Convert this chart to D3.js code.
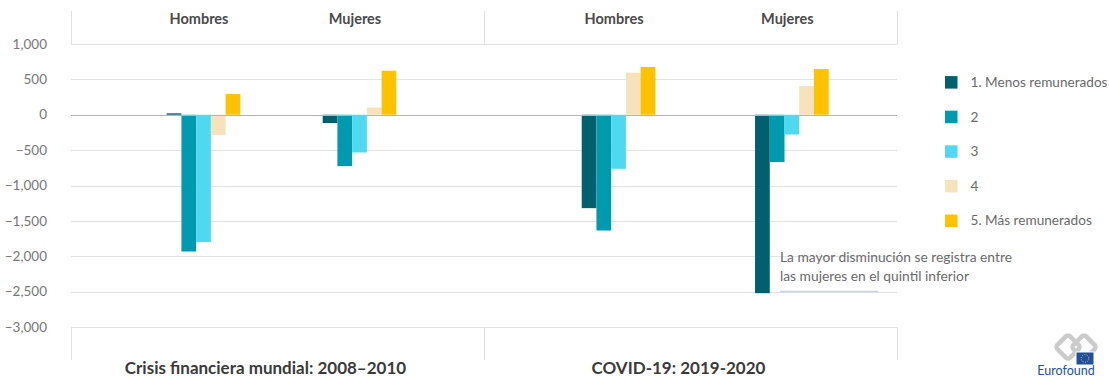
<!DOCTYPE html>
<html>
<head>
  <meta charset="utf-8">
  <title>Cambio en el empleo por quintil salarial</title>
  <script src="https://d3js.org/d3.v7.min.js"></script>
  <style>
    body { margin: 0; background: #fff; }
    text { font-family: "Source Sans Pro", Lato, "Open Sans", sans-serif; }
    .grid line { stroke: #e3e3e3; stroke-width: 1px; }
    .frame { stroke: #e0e0e0; stroke-width: 1px; fill: none; }
    .ytick { font-size: 13.5px; fill: #777; }
    .sub-label { font-size: 14.5px; font-weight: bold; fill: #4a4a4a; }
    .period-label { font-size: 17px; font-weight: bold; fill: #3a3a3a; }
    .legend text { font-size: 13.6px; fill: #6a6a6a; }
    .note { font-size: 13.8px; fill: #6a6a6a; }
  </style>
</head>
<body>
  <svg width="1109" height="379"></svg>
  <script>
    // Periods (bottom facets) and sexes (top labels)
    const periods = ["Crisis financiera mundial: 2008–2010", "COVID-19: 2019-2020"];
    const sexes = ["Hombres", "Mujeres"];
    const quintiles = ["1. Menos remunerados", "2", "3", "4", "5. Más remunerados"];
    const colors = ["#00606e", "#009aaf", "#4fd9f0", "#f6e2bb", "#ffc200"];

    // Employment change (thousands), one value per quintile
    const crisisHombres = [20, -1933, -1800, -287, 293];
    const crisisMujeres = [-117, -726, -533, 103, 622];
    const covidHombres = [-1320, -1636, -764, 594, 675];
    const covidMujeres = [-2522, -669, -279, 406, 646];

    const yTicks = [1000, 500, 0, -500, -1000, -1500, -2000, -2500, -3000];

    const series = [
      { period: periods[0], sex: sexes[0], values: crisisHombres },
      { period: periods[0], sex: sexes[1], values: crisisMujeres },
      { period: periods[1], sex: sexes[0], values: covidHombres },
      { period: periods[1], sex: sexes[1], values: covidMujeres }
    ];

    const svg = d3.select("svg");
    const plotLeft = 71, plotRight = 897;
    const headerTop = 11, headerBottom = 44, footerTop = 327, footerBottom = 360;

    const y = d3.scaleLinear().domain([-3000, 1000]).range([footerTop, headerBottom]);

    // Facet scale for the two periods
    const xPeriod = d3.scaleBand().domain(periods).range([plotLeft, plotRight]);

    // Each facet places its Hombres/Mujeres groups slightly differently
    const subLayout = {};
    subLayout[periods[0]] = d3.scaleBand().domain(sexes).range([95.7, 325.3]).paddingInner(0.528);
    subLayout[periods[1]] = d3.scaleBand().domain(sexes).range([97.7, 344.7]).paddingInner(0.575);

    const xQ = d3.scaleBand().domain(quintiles);

    // grid lines
    svg.append("g").attr("class", "grid")
      .selectAll("line").data(yTicks).enter().append("line")
      .attr("x1", plotLeft).attr("x2", plotRight)
      .attr("y1", d => Math.round(y(d)) + 0.5).attr("y2", d => Math.round(y(d)) + 0.5);

    // header & footer frames (vertical dividers)
    const dividers = [plotLeft, xPeriod(periods[1]), plotRight];
    dividers.forEach(x => {
      svg.append("line").attr("class", "frame")
        .attr("x1", Math.round(x) + 0.5).attr("x2", Math.round(x) + 0.5)
        .attr("y1", headerTop).attr("y2", headerBottom);
      svg.append("line").attr("class", "frame")
        .attr("x1", Math.round(x) + 0.5).attr("x2", Math.round(x) + 0.5)
        .attr("y1", footerTop).attr("y2", footerBottom);
    });

    // y tick labels
    svg.selectAll("text.ytick").data(yTicks).enter().append("text")
      .attr("class", "ytick")
      .attr("x", 47).attr("y", d => y(d))
      .attr("dy", "0.35em")
      .attr("text-anchor", "end")
      .text(d => d3.format(",")(d));

    // bars
    series.forEach(s => {
      const sub = subLayout[s.period];
      const gx = xPeriod(s.period) + sub(s.sex);
      xQ.range([gx, gx + sub.bandwidth()]);
      svg.append("g").selectAll("rect").data(s.values).enter().append("rect")
        .attr("x", (d, i) => xQ(quintiles[i]))
        .attr("width", xQ.bandwidth())
        .attr("y", d => y(Math.max(0, d)))
        .attr("height", d => Math.abs(y(d) - y(0)))
        .attr("fill", (d, i) => colors[i]);

      // sex label on top
      svg.append("text").attr("class", "sub-label")
        .attr("x", gx + sub.bandwidth() / 2 - 4.5)
        .attr("y", 19).attr("dy", "0.35em")
        .attr("text-anchor", "middle")
        .text(s.sex);
    });

    // zero line
    svg.append("line")
      .attr("x1", plotLeft).attr("x2", plotRight)
      .attr("y1", Math.round(y(0)) + 0.5).attr("y2", Math.round(y(0)) + 0.5)
      .attr("stroke", "#b5b5b5").attr("stroke-width", 1.2);

    // period labels
    svg.selectAll("text.period-label").data(periods).enter().append("text")
      .attr("class", "period-label")
      .attr("x", d => xPeriod(d) + xPeriod.bandwidth() / 2 - 12)
      .attr("y", 368).attr("dy", "0.35em")
      .attr("text-anchor", "middle")
      .text(d => d);

    // legend
    const legend = svg.append("g").attr("class", "legend");
    quintiles.forEach((q, i) => {
      const ly = 82.3 + i * 34.6;
      legend.append("rect").attr("x", 945).attr("y", ly - 6.2)
        .attr("width", 12.5).attr("height", 12.5).attr("fill", colors[i]);
      legend.append("text").attr("x", 970.5).attr("y", ly).attr("dy", "0.35em").text(q);
    });

    // annotation
    const note = ["La mayor disminución se registra entre", "las mujeres en el quintil inferior"];
    svg.selectAll("text.note").data(note).enter().append("text")
      .attr("class", "note")
      .attr("x", 780).attr("y", (d, i) => 257.5 + i * 18.7).attr("dy", "0.35em")
      .text(d => d);
    svg.append("line")
      .attr("x1", 780).attr("x2", 878).attr("y1", 291.5).attr("y2", 291.5)
      .attr("stroke", "#c3d3ee").attr("stroke-width", 1.5);

    // Eurofound logo (simplified: two linked diamonds + EU flag)
    const logo = svg.append("g");
    [1068, 1084].forEach(cx => {
      logo.append("rect")
        .attr("x", -9).attr("y", -9).attr("width", 18).attr("height", 18).attr("rx", 3)
        .attr("transform", `translate(${cx},347) rotate(45)`)
        .attr("fill", "none").attr("stroke", "#cbcbcb").attr("stroke-width", 4.5);
    });
    logo.append("rect").attr("x", 1076).attr("y", 352).attr("width", 18).attr("height", 13)
      .attr("fill", "#1f4fa0").attr("stroke", "#fff").attr("stroke-width", 1);
    logo.append("circle").attr("cx", 1085).attr("cy", 358.5).attr("r", 3.8)
      .attr("fill", "none").attr("stroke", "#ffd400").attr("stroke-width", 1).attr("stroke-dasharray", "1,1.4");
    logo.append("text").attr("x", 1066).attr("y", 371).attr("dy", "0.35em")
      .attr("text-anchor", "middle")
      .style("font-size", "12.5px").style("fill", "#2450a0")
      .text("Eurofound");
  </script>
</body>
</html>
